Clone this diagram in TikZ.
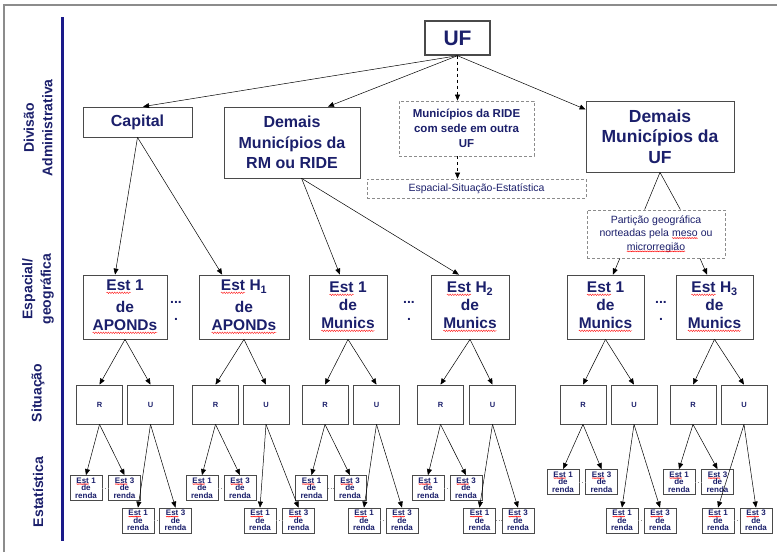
\documentclass[tikz,border=0pt]{standalone}
\usepackage{fontspec}
\setmainfont{Liberation Sans}
\usetikzlibrary{arrows.meta,decorations.pathmorphing}
\definecolor{navy}{HTML}{1B1F6B}
\definecolor{rulecol}{HTML}{1A1A8A}
\definecolor{framecol}{HTML}{8C8C8C}
\definecolor{edgecol}{HTML}{4A4A4A}
% red spell-check wave under a word
\newcommand{\sq}[1]{\tikz[baseline=(w.base)]{\node[inner sep=0pt,outer sep=0pt,minimum size=0pt,draw=none,fill=none] (w) {#1}; \draw[red,line width=0.35pt,decorate,decoration={snake,amplitude=0.05em,segment length=0.16em}] ([yshift=-0.12em]w.base west) -- ([yshift=-0.12em]w.base east);}}
\begin{document}
\begin{tikzpicture}[x=1pt,y=-1pt,
  box/.style={draw=edgecol, line width=0.8pt, fill=white, text=navy, align=center, inner sep=0pt},
  dbox/.style={box, draw=framecol, dash pattern=on 3pt off 2pt},
  big/.style={box, font=\fontsize{16}{20.7}\selectfont\bfseries},
  est/.style={box, minimum height=64, font=\fontsize{15.5}{18}\selectfont\bfseries},
  sit/.style={box, minimum width=46, minimum height=39, font=\fontsize{7.5}{8}\selectfont\bfseries},
  ren/.style={box, minimum width=32, minimum height=25, font=\fontsize{8}{7.6}\selectfont\bfseries},
  lab/.style={text=navy, align=center, rotate=90, font=\fontsize{14}{18.5}\selectfont\bfseries},
  dots/.style={text=navy, align=center, font=\fontsize{14}{17}\selectfont\bfseries},
  arr/.style={-{Triangle[length=6pt,width=5pt]}, draw=black, line width=0.5pt},
  lnk/.style={draw=black, line width=0.5pt},
  gap/.style={draw=framecol, dotted, line width=0.6pt}]
\useasboundingbox (0,0) rectangle (777,552);
\draw[framecol, line width=1.5pt] (4,552) -- (4,5) -- (777,5);
\draw[rulecol, line width=3pt] (62,17) -- (62,541);
% level labels
\node[lab] (LDiv) at (38,128) {Divisão\\Administrativa};
\node[lab] (LEsp) at (38,289) {Espacial/\\geográfica};
\node[lab] (LSit) at (38,393) {Situação};
\node[lab] (LEst) at (38,492) {Estatística};
% divisao administrativa
\node[big, line width=1.4pt, minimum width=65, minimum height=34, font=\fontsize{21}{24}\selectfont\bfseries] (UF) at (457.5,38) {UF};
\node[big, minimum width=109, minimum height=30] (Cap) at (137.5,122) {Capital};
\node[big, minimum width=136, minimum height=71] (RM) at (292,142.5) {Demais\\Municípios da\\RM ou RIDE};
\node[dbox, minimum width=135, minimum height=55, font=\fontsize{11.5}{15}\selectfont\bfseries] (RIDE) at (466.5,128.5) {Municípios da RIDE\\com sede em outra\\UF};
\node[dbox, minimum width=219, minimum height=19, font=\fontsize{10.5}{12}\selectfont] (ESE) at (476.5,188.5) {Espacial-Situação-Estatística};
\node[big, minimum width=148, minimum height=71, font=\fontsize{17.5}{20.7}\selectfont\bfseries] (DUF) at (660,136.5) {Demais\\Municípios da\\UF};
\node[dbox, minimum width=138, minimum height=48, font=\fontsize{10.5}{13.3}\selectfont] (Part) at (656,234) {Partição geográfica\\norteadas pela \sq{meso} ou\\\sq{microrregião}};
% espacial / geografica
\node[est, minimum width=84] (E1) at (125,307) {\sq{Est} 1\\[4pt]de\\\sq{APONDs}};
\node[est, minimum width=90] (E2) at (244,307) {\sq{Est} H\textsubscript{1}\\[4pt]de\\\sq{APONDs}};
\node[est, minimum width=78] (E3) at (348,307) {\sq{Est} 1\\de\\\sq{Munics}};
\node[est, minimum width=78] (E4) at (470,307) {\sq{Est} H\textsubscript{2}\\de\\\sq{Munics}};
\node[est, minimum width=77] (E5) at (605.5,307) {\sq{Est} 1\\de\\\sq{Munics}};
\node[est, minimum width=77] (E6) at (714.5,307) {\sq{Est} H\textsubscript{3}\\de\\\sq{Munics}};
\node[dots] (D1) at (176,311) {...\\.};
\node[dots] (D2) at (409,311) {...\\.};
\node[dots] (D3) at (661,311) {...\\.};
% situacao
\node[sit] (R1) at (99.5,404.5) {R};
\node[sit] (U1) at (150.5,404.5) {U};
\node[sit] (R2) at (215.5,404.5) {R};
\node[sit] (U2) at (266,404.5) {U};
\node[sit] (R3) at (325,404.5) {R};
\node[sit] (U3) at (376.5,404.5) {U};
\node[sit] (R4) at (440.5,404.5) {R};
\node[sit] (U4) at (492.5,404.5) {U};
\node[sit] (R5) at (583,404.5) {R};
\node[sit] (U5) at (634,404.5) {U};
\node[sit] (R6) at (693,404.5) {R};
\node[sit] (U6) at (744,404.5) {U};
% estatistica
\node[ren] (R1a) at (86,488) {\sq{Est} 1\\de\\renda};
\node[ren] (R1b) at (124.5,488) {\sq{Est} 3\\de\\renda};
\node[ren] (U1a) at (138,520.5) {\sq{Est} 1\\de\\renda};
\node[ren] (U1b) at (175.5,520.5) {\sq{Est} 3\\de\\renda};
\node[ren] (R2a) at (202,488) {\sq{Est} 1\\de\\renda};
\node[ren] (R2b) at (240,488) {\sq{Est} 3\\de\\renda};
\node[ren] (U2a) at (260,520.5) {\sq{Est} 1\\de\\renda};
\node[ren] (U2b) at (298.5,520.5) {\sq{Est} 3\\de\\renda};
\node[ren] (R3a) at (311.5,488) {\sq{Est} 1\\de\\renda};
\node[ren] (R3b) at (350,488) {\sq{Est} 3\\de\\renda};
\node[ren] (U3a) at (364,520.5) {\sq{Est} 1\\de\\renda};
\node[ren] (U3b) at (402,520.5) {\sq{Est} 3\\de\\renda};
\node[ren] (R4a) at (428,488) {\sq{Est} 1\\de\\renda};
\node[ren] (R4b) at (466,488) {\sq{Est} 3\\de\\renda};
\node[ren] (U4a) at (479.5,520.5) {\sq{Est} 1\\de\\renda};
\node[ren] (U4b) at (518,520.5) {\sq{Est} 3\\de\\renda};
\node[ren] (R5a) at (563,482) {\sq{Est} 1\\de\\renda};
\node[ren] (R5b) at (601.5,482) {\sq{Est} 3\\de\\renda};
\node[ren] (U5a) at (622,520.5) {\sq{Est} 1\\de\\renda};
\node[ren] (U5b) at (660,520.5) {\sq{Est} 3\\de\\renda};
\node[ren] (R6a) at (679,482) {\sq{Est} 1\\de\\renda};
\node[ren] (R6b) at (717.5,482) {\sq{Est} 3\\de\\renda};
\node[ren] (U6a) at (718,520.5) {\sq{Est} 1\\de\\renda};
\node[ren] (U6b) at (756,520.5) {\sq{Est} 3\\de\\renda};
% top connectors
\path (UF.south) edge[arr] (Cap.70);
\path (UF.south) edge[arr] (RM.45);
\path (UF.south) edge[arr, dashed] (UF.south |- RIDE.north);
\path (UF.south) edge[arr] (DUF.160);
\path (UF.south |- RIDE.south) edge[arr, dashed] (UF.south |- ESE.north);
\path (DUF.south) edge[lnk] (Part.115);
\path (DUF.south) edge[lnk] (Part.45);
\path (Cap.south) edge[arr] (E1.107);
\path (Cap.south) edge[arr] (E2.124);
\path (RM.-75) edge[arr] (E3.104);
\path (RM.-75) edge[arr] (E4.109);
\path (Part.-146) edge[arr] (E5.77);
\path (Part.-29) edge[arr] (E6.103);
% est -> situacao
\path (E1.south) edge[arr] (R1.north);
\path (E1.south) edge[arr] (U1.north);
\path (E2.south) edge[arr] (R2.north);
\path (E2.south) edge[arr] (U2.north);
\path (E3.south) edge[arr] (R3.north);
\path (E3.south) edge[arr] (U3.north);
\path (E4.south) edge[arr] (R4.north);
\path (E4.south) edge[arr] (U4.north);
\path (E5.south) edge[arr] (R5.north);
\path (E5.south) edge[arr] (U5.north);
\path (E6.south) edge[arr] (R6.north);
\path (E6.south) edge[arr] (U6.north);
% situacao -> estatistica
\path (R1.south) edge[arr] (R1a.north);
\path (R1.south) edge[arr] (R1b.north);
\path (U1.south) edge[arr] (U1a.north);
\path (U1.south) edge[arr] (U1b.north);
\path (R2.south) edge[arr] (R2a.north);
\path (R2.south) edge[arr] (R2b.north);
\path (U2.south) edge[arr] (U2a.north);
\path (U2.south) edge[arr] (U2b.north);
\path (R3.south) edge[arr] (R3a.north);
\path (R3.south) edge[arr] (R3b.north);
\path (U3.south) edge[arr] (U3a.north);
\path (U3.south) edge[arr] (U3b.north);
\path (R4.south) edge[arr] (R4a.north);
\path (R4.south) edge[arr] (R4b.north);
\path (U4.south) edge[arr] (U4a.north);
\path (U4.south) edge[arr] (U4b.north);
\path (R5.south) edge[arr] (R5a.north);
\path (R5.south) edge[arr] (R5b.north);
\path (U5.south) edge[arr] (U5a.north);
\path (U5.south) edge[arr] (U5b.north);
\path (R6.south) edge[arr] (R6a.north);
\path (R6.south) edge[arr] (R6b.north);
\path (U6.south) edge[arr] (U6a.north);
\path (U6.south) edge[arr] (U6b.north);
% dotted links between the pairs
\path (R1a.east) edge[gap] (R1b.west);
\path (U1a.east) edge[gap] (U1b.west);
\path (R2a.east) edge[gap] (R2b.west);
\path (U2a.east) edge[gap] (U2b.west);
\path (R3a.east) edge[gap] (R3b.west);
\path (U3a.east) edge[gap] (U3b.west);
\path (R4a.east) edge[gap] (R4b.west);
\path (U4a.east) edge[gap] (U4b.west);
\path (R5a.east) edge[gap] (R5b.west);
\path (U5a.east) edge[gap] (U5b.west);
\path (R6a.east) edge[gap] (R6b.west);
\path (U6a.east) edge[gap] (U6b.west);
\end{tikzpicture}
\end{document}
